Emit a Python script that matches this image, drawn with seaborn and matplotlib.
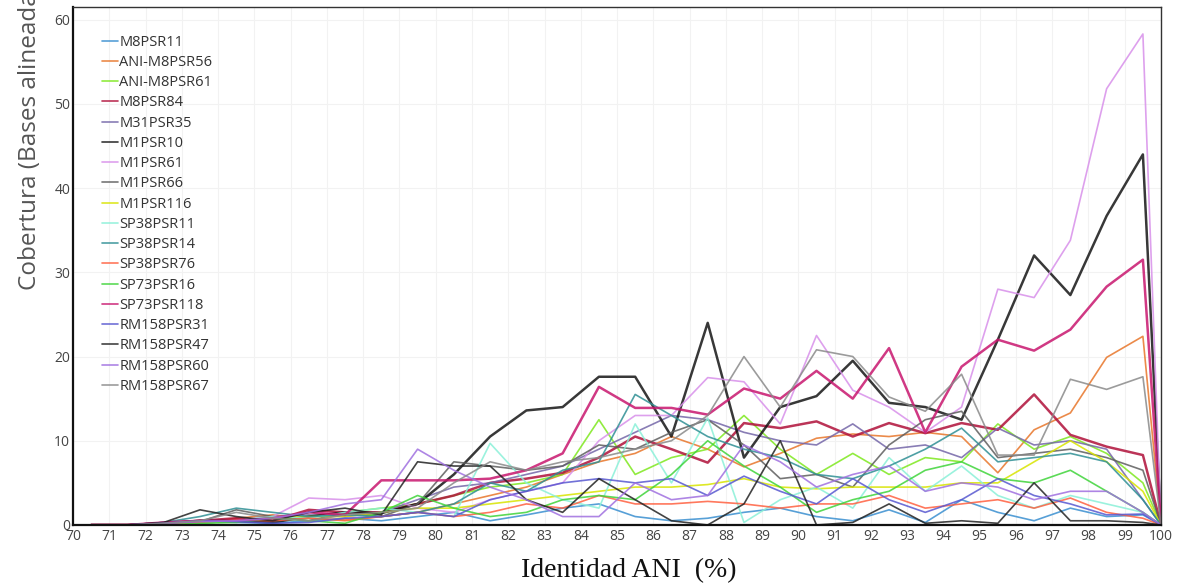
import numpy as np
import pandas as pd
import seaborn as sns
import matplotlib.pyplot as plt

#%% data (bins 70.5 ... 99.5 then 100)
identity = [70.5, 71.5, 72.5, 73.5, 74.5, 75.5, 76.5, 77.5, 78.5, 79.5,
            80.5, 81.5, 82.5, 83.5, 84.5, 85.5, 86.5, 87.5, 88.5, 89.5,
            90.5, 91.5, 92.5, 93.5, 94.5, 95.5, 96.5, 97.5, 98.5, 99.5, 100]

samples = ['M8PSR11', 'ANI-M8PSR56', 'ANI-M8PSR61', 'M8PSR84', 'M31PSR35',
           'M1PSR10', 'M1PSR61', 'M1PSR66', 'M1PSR116', 'SP38PSR11',
           'SP38PSR14', 'SP38PSR76', 'SP73PSR16', 'SP73PSR118', 'RM158PSR31',
           'RM158PSR47', 'RM158PSR60', 'RM158PSR67']

colors = ['#3a8fd0', '#e8762a', '#7ee81e', '#b0103a', '#7466a8',
          '#151515', '#d890ea', '#5e5e5e', '#d8e400', '#8af0d8',
          '#2f8f94', '#ff6040', '#3fd43a', '#c8166e', '#5858d0',
          '#222222', '#a070e0', '#8a8a8a']

M8PSR11 = [0, 0, 0.2, 0.5, 0.3, 0.2, 0.5, 0.8, 0.5, 1.0,
           1.5, 0.5, 1.2, 2.0, 2.5, 1.0, 0.5, 0.8, 1.5, 2.0,
           1.0, 0.5, 1.8, 0.3, 3.0, 1.5, 0.5, 2.0, 1.0, 1.2, 0]
ANI_M8PSR56 = [0, 0, 0.2, 0.3, 0.8, 1.2, 0.8, 0.5, 1.0, 1.5,
               2.5, 3.5, 4.5, 6.0, 7.5, 8.5, 10.5, 9.0, 6.9, 8.5,
               10.3, 10.8, 10.5, 11.0, 10.5, 6.2, 11.3, 13.3, 19.9, 22.4, 0]
ANI_M8PSR61 = [0, 0, 0, 0.2, 0.5, 0.8, 1.0, 1.5, 2.0, 2.5,
               3.5, 4.5, 5.0, 6.0, 12.5, 6.0, 8.0, 9.0, 13.0, 9.0,
               6.0, 8.5, 6.0, 8.0, 7.5, 12.0, 9.0, 10.5, 8.5, 5.0, 0]
M8PSR84 = [0, 0, 0.2, 0.5, 0.8, 0.5, 1.8, 1.5, 1.5, 2.5,
           3.5, 5.0, 5.5, 6.2, 8.0, 10.5, 9.0, 7.4, 12.1, 11.5,
           12.3, 10.5, 12.1, 10.9, 12.1, 11.3, 15.5, 10.7, 9.3, 8.3, 0]
M31PSR35 = [0, 0, 0.3, 0.5, 0.5, 1.0, 1.2, 1.0, 1.5, 3.0,
            4.5, 5.0, 6.0, 7.0, 9.0, 11.0, 13.0, 12.5, 11.0, 10.0,
            9.5, 12.0, 9.0, 9.5, 8.0, 11.5, 9.5, 10.0, 9.0, 3.0, 0]
M1PSR10 = [0, 0, 0.2, 0.5, 0.5, 0.3, 1.0, 1.5, 1.4, 2.5,
           6.0, 10.5, 13.6, 14.0, 17.6, 17.6, 10.5, 24.0, 8.0, 14.0,
           15.3, 19.5, 14.5, 14.0, 12.5, 22.0, 32.0, 27.3, 36.7, 44.0, 0]
M1PSR61 = [0, 0, 0.3, 0.5, 0.5, 1.0, 3.2, 3.0, 3.5, 2.0,
           1.5, 3.0, 4.0, 5.0, 10.0, 13.0, 13.0, 17.5, 17.0, 12.0,
           22.5, 16.0, 14.0, 11.0, 14.0, 28.0, 27.0, 33.8, 51.8, 58.3, 0]
M1PSR66 = [0, 0, 0.2, 0.4, 1.8, 1.0, 0.5, 1.5, 1.0, 2.5,
           7.5, 7.0, 6.5, 7.0, 9.5, 9.0, 11.0, 12.5, 9.5, 5.5,
           6.0, 4.5, 9.5, 12.5, 13.5, 8.0, 8.5, 9.0, 8.0, 6.5, 0]
M1PSR116 = [0, 0, 0, 0.2, 0.5, 0.8, 1.0, 1.0, 1.5, 2.0,
            2.0, 2.5, 3.0, 3.5, 4.0, 4.5, 4.5, 4.8, 5.5, 4.5,
            4.3, 4.5, 4.5, 4.5, 5.0, 5.0, 7.5, 10.0, 7.5, 4.0, 0]
SP38PSR11 = [0, 0, 0, 0.2, 0.5, 1.0, 0.8, 1.5, 2.0, 1.5,
             1.0, 9.7, 5.0, 3.0, 2.0, 12.0, 5.0, 12.7, 0.3, 3.0,
             4.5, 2.0, 8.0, 4.0, 7.0, 3.5, 2.0, 3.5, 2.5, 1.5, 0]
SP38PSR14 = [0, 0, 0.3, 1.0, 2.0, 1.5, 1.0, 1.2, 1.0, 1.5,
             2.5, 5.0, 4.0, 6.5, 7.5, 15.5, 13.0, 10.5, 9.0, 8.0,
             6.0, 5.5, 7.0, 9.0, 11.5, 7.5, 8.0, 8.5, 7.5, 3.0, 0]
SP38PSR76 = [0, 0, 0.2, 0.3, 0.6, 0.5, 0.8, 0.6, 1.0, 1.5,
             1.0, 1.5, 2.5, 2.0, 3.5, 2.5, 2.5, 2.8, 2.5, 2.0,
             2.5, 2.5, 3.5, 2.0, 2.5, 3.0, 2.0, 3.2, 1.5, 0.8, 0]
SP73PSR16 = [0, 0, 0, 0.2, 0.3, 0.8, 0.5, 0.2, 1.5, 3.5,
             2.0, 1.0, 1.5, 3.0, 3.5, 3.0, 6.0, 10.0, 7.0, 4.5,
             1.5, 3.0, 4.0, 6.5, 7.5, 5.5, 5.0, 6.5, 4.0, 1.5, 0]
SP73PSR118 = [0, 0, 0.3, 0.5, 0.5, 0.8, 1.5, 1.2, 5.3, 5.3,
              5.3, 5.5, 6.5, 8.5, 16.4, 13.9, 13.9, 13.1, 16.2, 15.0,
              18.3, 15.0, 21.0, 11.0, 18.8, 22.0, 20.7, 23.2, 28.3, 31.5, 0]
RM158PSR31 = [0, 0, 0.2, 0.5, 0.4, 0.2, 0.3, 0.8, 1.0, 1.5,
              1.0, 3.0, 4.0, 5.0, 5.5, 5.0, 5.5, 3.5, 5.8, 4.0,
              2.5, 5.5, 3.0, 1.5, 3.0, 5.5, 3.5, 2.5, 1.2, 1.3, 0]
RM158PSR47 = [0, 0, 0.3, 1.8, 1.0, 0.5, 1.5, 2.0, 1.2, 7.5,
              7.0, 7.0, 3.0, 1.5, 5.5, 3.0, 0.5, 0, 2.5, 10.0,
              0, 0.3, 2.5, 0.2, 0.5, 0.2, 5.0, 0.5, 0.5, 0.3, 0]
RM158PSR60 = [0, 0, 0.2, 0.4, 0.5, 0.8, 1.5, 2.5, 3.0, 9.0,
              6.5, 4.5, 3.0, 1.0, 1.0, 5.0, 3.0, 3.5, 9.5, 7.5,
              4.5, 6.0, 7.0, 4.0, 5.0, 4.5, 3.0, 4.0, 4.0, 1.5, 0]
RM158PSR67 = [0, 0, 0.2, 0.5, 1.5, 0.8, 0.5, 1.2, 1.5, 2.0,
              5.0, 7.5, 6.5, 7.5, 8.0, 9.0, 10.0, 13.0, 20.0, 14.0,
              20.8, 20.0, 15.2, 13.5, 17.9, 8.3, 8.3, 17.3, 16.1, 17.6, 0]

values = [M8PSR11, ANI_M8PSR56, ANI_M8PSR61, M8PSR84, M31PSR35, M1PSR10,
          M1PSR61, M1PSR66, M1PSR116, SP38PSR11, SP38PSR14, SP38PSR76,
          SP73PSR16, SP73PSR118, RM158PSR31, RM158PSR47, RM158PSR60, RM158PSR67]

#%% long table for seaborn
rows = []
for name, vals in zip(samples, values):
    for x, v in zip(identity, vals):
        rows.append((name, x, v))
df = pd.DataFrame(rows, columns=['sample', 'ani', 'cov'])
palette = dict(zip(samples, colors))

#%% plot
sns.set_style('white')
plt.rcParams['font.family'] = ['Open Sans', 'DejaVu Sans']

fig = plt.figure(figsize=(11.84, 5.85), dpi=100)
ax = fig.add_axes([0.0617, 0.1026, 0.9189, 0.8854])

sns.lineplot(data=df, x='ani', y='cov', hue='sample', hue_order=samples,
             palette=palette, linewidth=1.2, alpha=0.85, ax=ax, legend=True)
# the magenta / crimson lines are drawn heavier
for line, name in zip(ax.lines, samples):
    if name in ('SP73PSR118', 'M8PSR84', 'M1PSR10'):
        line.set_linewidth(1.8)

ax.set_xlim(70, 100)
ax.set_ylim(0, 61.5)
ax.set_xticks(range(70, 101))
ax.set_yticks(range(0, 61, 10))
ax.tick_params(length=0, pad=3, labelsize=10, labelcolor='#444444')
ax.tick_params(axis='y', pad=2)
ax.grid(True, color='#f2f2f2', linewidth=0.8)
ax.set_xlabel('')
ax.set_ylabel('')
for side in ['left', 'bottom']:
    ax.spines[side].set_color('#111111')
    ax.spines[side].set_linewidth(1.6)
for side in ['top', 'right']:
    ax.spines[side].set_color('#333333')
    ax.spines[side].set_linewidth(1.0)

handles, labels = ax.get_legend_handles_labels()
leg = ax.legend(handles, labels, loc='upper left', bbox_to_anchor=(0.021, 0.958),
                frameon=False, fontsize=10.5, labelspacing=0.36, handlelength=1.1,
                handletextpad=0.1, borderaxespad=0)
for t in leg.get_texts():
    t.set_color('#333333')

fig.text(30 / 1184, 1 - 290 / 585, 'Cobertura (Bases alineadas)', rotation=90,
         ha='center', va='bottom', fontsize=17.5, color='#555555')
fig.text(629 / 1184, 1 - 571 / 585, 'Identidad ANI  (%)', ha='center', va='center',
         fontsize=20, color='#111111', family=['Liberation Serif', 'DejaVu Serif'])

fig.savefig('out.png', dpi=100)
